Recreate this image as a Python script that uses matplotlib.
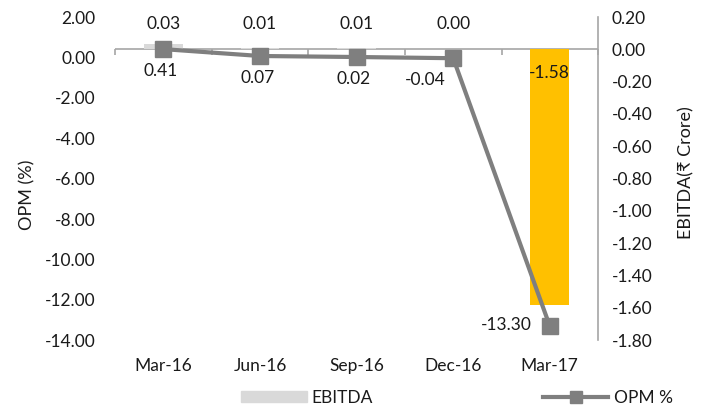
import numpy as np
import matplotlib.pyplot as plt

plt.rcParams['font.family'] = ['Lato', 'DejaVu Sans']

quarters = ['Mar-16', 'Jun-16', 'Sep-16', 'Dec-16', 'Mar-17']
ebitda = [0.03, 0.01, 0.01, 0.00, -1.58]
opm = [0.41, 0.07, 0.02, -0.04, -13.30]
bar_colors = ['#D9D9D9', '#D9D9D9', '#D9D9D9', '#D9D9D9', '#FFC000']

x = np.arange(len(quarters))
txt = '#1a1a1a'
fs = 12.5


def fmt(v, p=None):
    return f'{v + 0.0:.2f}' if abs(v) > 1e-9 else '0.00'


fig = plt.figure(figsize=(7.02, 4.05), dpi=100)
ax1 = fig.add_axes([0.164, 0.160, 0.688, 0.798])
ax2 = ax1.twinx()
ax1.set_zorder(ax2.get_zorder() + 1)
ax1.patch.set_visible(False)

# EBITDA bars on the right axis
ax2.bar(x, ebitda, width=0.4, color=bar_colors, zorder=2)
ax2.set_ylim(-1.8, 0.2)
ax2.set_yticks(np.arange(-1.8, 0.21, 0.2))
ax2.yaxis.set_major_formatter(fmt)
ax2.axhline(0, color='#A6A6A6', lw=1.2, zorder=1)
ax2.vlines(np.arange(-0.5, len(quarters)), -0.032, 0, color='#A6A6A6', lw=1.2, clip_on=False)
for xi, v in zip(x, ebitda):
    off = 18 if v >= 0 else -17
    ax2.annotate(fmt(v), (xi, 0), xytext=(0, off), textcoords='offset points',
                 ha='center', va='center', fontsize=fs, color=txt)
ax2.set_ylabel('EBITDA(₹ Crore)', fontsize=13, color=txt)
ax2.yaxis.set_label_coords(1.167, 0.52)

# OPM line on the left axis
ax1.plot(x, opm, color='#7F7F7F', lw=3, marker='s', markersize=12, zorder=3)
ax1.set_ylim(-14, 2)
ax1.set_xlim(-0.5, len(quarters) - 0.5)
ax1.set_yticks(np.arange(-14, 2.1, 2))
ax1.yaxis.set_major_formatter(fmt)
for xi, v in zip(x[:-1], opm[:-1]):
    dx = -20 if v < 0 else -2
    ax1.annotate(fmt(v), (xi, v), xytext=(dx, -16), textcoords='offset points',
                 ha='center', va='center', fontsize=fs, color=txt)
ax1.annotate(fmt(opm[-1]), (x[-1], opm[-1]), xytext=(-13, 1), textcoords='offset points',
             ha='right', va='center', fontsize=fs, color=txt)
ax1.set_ylabel('OPM (%)', fontsize=13, color=txt)
ax1.yaxis.set_label_coords(-0.165, 0.45)
ax1.set_xticks(x)
ax1.set_xticklabels(quarters)

for a in (ax1, ax2):
    for s in a.spines.values():
        s.set_visible(False)
    a.tick_params(length=0, labelsize=fs, labelcolor=txt)
ax2.spines['right'].set_visible(True)
ax2.spines['right'].set_color('#A6A6A6')
ax2.spines['right'].set_linewidth(1.2)
ax1.tick_params(axis='y', pad=14)
ax1.tick_params(axis='x', pad=13)
ax2.tick_params(axis='y', pad=10)

# legend
h_bar = plt.Rectangle((0, 0), 1, 1, color='#D9D9D9')
h_line, = ax1.plot([], [], color='#7F7F7F', lw=3, marker='s', markersize=9)
fig.legend([h_bar, h_line], ['EBITDA', 'OPM %'], loc='center', ncol=2,
           bbox_to_anchor=(0.651, 0.018), frameon=False, fontsize=fs,
           handlelength=3.75, columnspacing=9.8, handletextpad=0.3,
           handleheight=0.6, labelcolor=txt)

fig.savefig('out.png', dpi=100)
